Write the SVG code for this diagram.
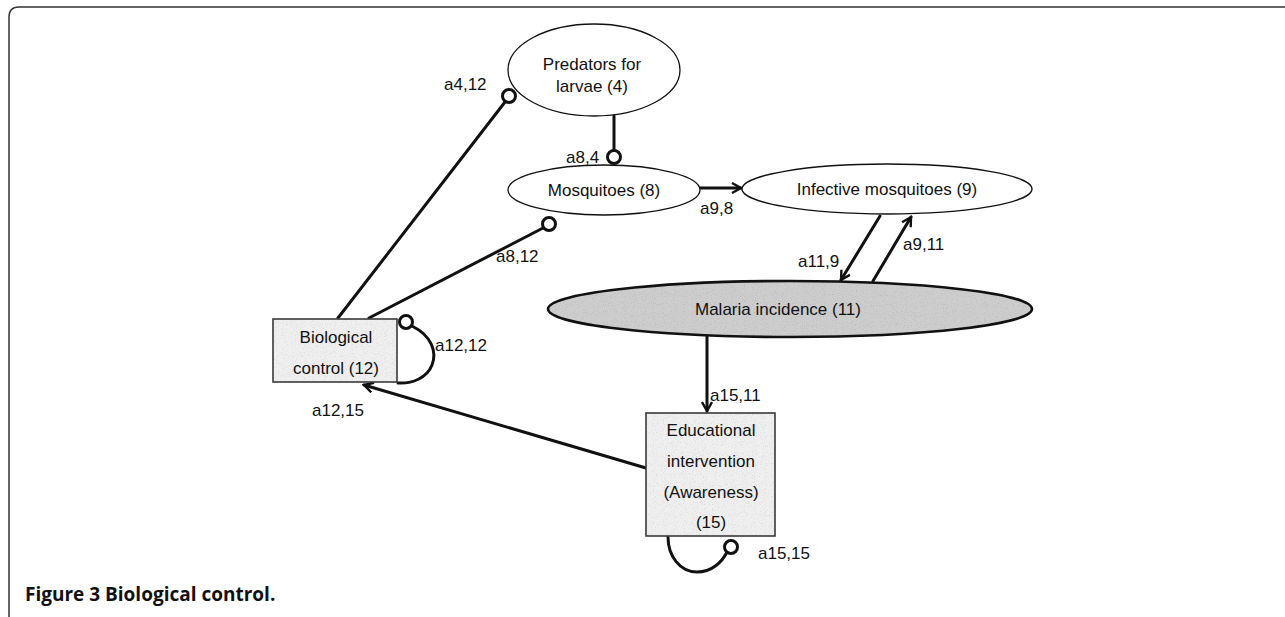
<svg xmlns="http://www.w3.org/2000/svg" width="1285" height="617" viewBox="0 0 1285 617">
  <style>
    .lbl { font-family: "Liberation Sans", Arial, sans-serif; font-size: 17px; fill: #111; }
    .node-txt { font-family: "Liberation Sans", Arial, sans-serif; font-size: 17px; fill: #111; text-anchor: middle; }
    .edge { stroke: #111; stroke-width: 3; fill: none; stroke-linecap: round; }
    .ring { stroke: #111; stroke-width: 3; fill: #fff; }
    .oval { stroke: #111; stroke-width: 1.3; fill: #fff; }
    .box { stroke: #3a3a3a; stroke-width: 1.6; }
    .caption { font-family: "Open Sans", "Noto Sans", sans-serif; font-size: 19px; font-weight: bold; fill: #111; }
  </style>
  <defs>
    <marker id="arrow" viewBox="0 0 12 12" refX="10" refY="6" markerWidth="12" markerHeight="12" markerUnits="userSpaceOnUse" orient="auto">
      <path d="M1,1 L10,6 L1,11" fill="none" stroke="#111" stroke-width="2.4"/>
    </marker>
    <!-- fine speckle over shaded fills -->
    <filter id="grain" x="0" y="0" width="100%" height="100%">
      <feTurbulence type="fractalNoise" baseFrequency="0.9" numOctaves="2" seed="3" result="n"/>
      <feColorMatrix in="n" type="matrix" values="0 0 0 0 0  0 0 0 0 0  0 0 0 0 0  0 0 0 -0.6 0.28" result="dots"/>
      <feComposite in="dots" in2="SourceGraphic" operator="in" result="d2"/>
      <feMerge><feMergeNode in="SourceGraphic"/><feMergeNode in="d2"/></feMerge>
    </filter>
  </defs>

  <rect width="1285" height="617" fill="#fff"/>

  <!-- figure frame: top rule and left rule with rounded corner -->
  <path d="M9,617 L9,17 Q9,7 19,7 L1285,7" fill="none" stroke="#333" stroke-width="1.5"/>

  <!-- connectors -->
  <g id="connectors">
    <!-- a4,12 : Biological control -> Predators for larvae (inhibitory) -->
    <line class="edge" x1="338" y1="318" x2="505" y2="102"/>
    <circle class="ring" cx="509" cy="96" r="6.5"/>
    <!-- a8,12 : Biological control -> Mosquitoes (inhibitory) -->
    <line class="edge" x1="369" y1="318" x2="543" y2="228"/>
    <circle class="ring" cx="549" cy="224" r="6.5"/>
    <!-- a8,4 : Predators -> Mosquitoes (inhibitory) -->
    <line class="edge" x1="614" y1="116" x2="614" y2="150"/>
    <circle class="ring" cx="614" cy="157" r="6.5"/>
    <!-- a9,8 : Mosquitoes -> Infective mosquitoes -->
    <line class="edge" x1="700" y1="188" x2="741" y2="188" marker-end="url(#arrow)"/>
    <!-- a11,9 : Infective mosquitoes -> Malaria incidence -->
    <line class="edge" x1="880" y1="216" x2="841" y2="280" marker-end="url(#arrow)"/>
    <!-- a9,11 : Malaria incidence -> Infective mosquitoes -->
    <line class="edge" x1="873" y1="281" x2="911" y2="217" marker-end="url(#arrow)"/>
    <!-- a15,11 : Malaria incidence -> Educational intervention -->
    <line class="edge" x1="707" y1="337" x2="707" y2="411" marker-end="url(#arrow)"/>
    <!-- a12,15 : Educational intervention -> Biological control -->
    <line class="edge" x1="646" y1="468" x2="364" y2="385" marker-end="url(#arrow)"/>
    <!-- a12,12 : self loop on Biological control -->
    <path class="edge" d="M412,326 C432,336 437,352 432,365 C427,378 412,384 398,383"/>
    <circle class="ring" cx="406" cy="322" r="6.5"/>
    <!-- a15,15 : self loop on Educational intervention -->
    <path class="edge" d="M668,537 C668,556 680,572 697,572 C712,572 722,562 727,552"/>
    <circle class="ring" cx="731" cy="547" r="6.5"/>
  </g>

  <!-- edge labels -->
  <g id="edge-labels">
    <text class="lbl" x="444" y="90">a4,12</text>
    <text class="lbl" x="566" y="163">a8,4</text>
    <text class="lbl" x="700" y="214">a9,8</text>
    <text class="lbl" x="496" y="262">a8,12</text>
    <text class="lbl" x="798" y="267">a11,9</text>
    <text class="lbl" x="903" y="250">a9,11</text>
    <text class="lbl" x="435" y="351">a12,12</text>
    <text class="lbl" x="312" y="416">a12,15</text>
    <text class="lbl" x="710" y="401">a15,11</text>
    <text class="lbl" x="758" y="559">a15,15</text>
  </g>

  <!-- nodes -->
  <g id="node-predators">
    <ellipse class="oval" cx="594" cy="70" rx="86" ry="46"/>
    <text class="node-txt" x="592" y="70">Predators for</text>
    <text class="node-txt" x="592" y="92">larvae (4)</text>
  </g>

  <g id="node-mosquitoes">
    <ellipse class="oval" cx="604" cy="190" rx="96" ry="25"/>
    <text class="node-txt" x="604" y="196">Mosquitoes (8)</text>
  </g>

  <g id="node-infective">
    <ellipse class="oval" cx="887" cy="189" rx="145" ry="25"/>
    <text class="node-txt" x="887" y="195">Infective mosquitoes (9)</text>
  </g>

  <g id="node-malaria">
    <ellipse cx="790" cy="309" rx="242" ry="28" fill="#cdcdcd" filter="url(#grain)"/>
    <ellipse cx="790" cy="309" rx="242" ry="28" fill="none" stroke="#111" stroke-width="2.6"/>
    <text class="node-txt" x="778" y="315">Malaria incidence (11)</text>
  </g>

  <g id="node-biocontrol">
    <rect x="273" y="319" width="124" height="63" fill="#efefef" filter="url(#grain)"/>
    <rect class="box" x="273" y="319" width="124" height="63" fill="none"/>
    <text class="node-txt" x="336" y="343">Biological</text>
    <text class="node-txt" x="336" y="374">control (12)</text>
  </g>

  <g id="node-education">
    <rect x="646" y="413" width="129" height="123" fill="#efefef" filter="url(#grain)"/>
    <rect class="box" x="646" y="413" width="129" height="123" fill="none"/>
    <text class="node-txt" x="711" y="436">Educational</text>
    <text class="node-txt" x="711" y="467">intervention</text>
    <text class="node-txt" x="711" y="498">(Awareness)</text>
    <text class="node-txt" x="711" y="528">(15)</text>
  </g>

  <!-- caption -->
  <text class="caption" x="25" y="601">Figure 3 Biological control.</text>
</svg>
